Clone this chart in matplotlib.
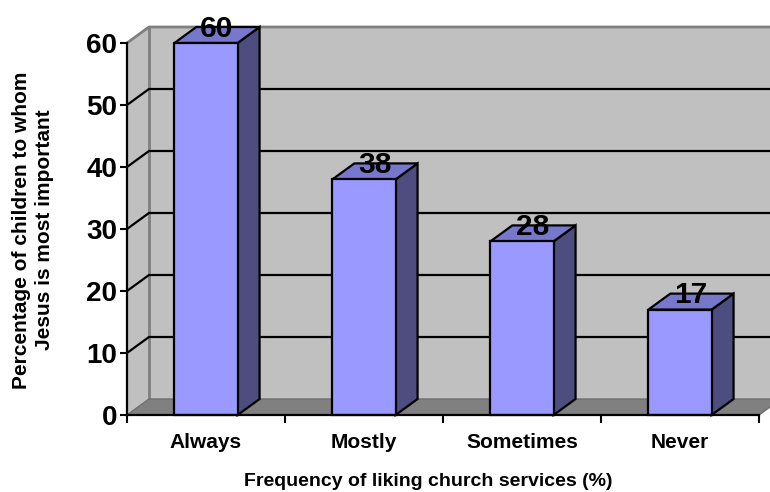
import matplotlib
matplotlib.use("Agg")
import matplotlib.pyplot as plt

plt.rcParams['font.family'] = ['Liberation Sans', 'DejaVu Sans']
plt.rcParams['font.weight'] = 'bold'

categories = ['Always', 'Mostly', 'Sometimes', 'Never']
values = [60, 38, 28, 17]
y_ticks = [0, 10, 20, 30, 40, 50, 60]

# fake 3D offsets (data units)
DX = 0.139
DY = 2.58
W = 0.4

front_c = '#9999FF'
side_c = '#4D4D80'
top_c = '#7777CC'

fig = plt.figure(figsize=(7.7, 4.92), dpi=100)
ax = fig.add_axes([127 / 770, 77 / 492, 632 / 770, 372 / 492])
ax.set_xlim(-0.5, 3.5)
ax.set_ylim(0, 60)
ax.patch.set_visible(False)

x0, x1 = -0.5, len(categories) - 0.5
ymax = y_ticks[-1]

# walls
ax.fill([x0 + DX, x1 + DX, x1 + DX, x0 + DX], [DY, DY, ymax + DY, ymax + DY],
        color='#C0C0C0', clip_on=False, zorder=0)
ax.fill([x0, x0 + DX, x0 + DX, x0], [0, DY, ymax + DY, ymax],
        color='#C0C0C0', clip_on=False, zorder=0)
ax.plot([x0, x0 + DX, x1 + DX], [ymax, ymax + DY, ymax + DY],
        color='#808080', lw=2, clip_on=False, zorder=1)
ax.plot([x0 + DX, x0 + DX], [DY, ymax + DY], color='#808080', lw=2,
        clip_on=False, zorder=1)

# gridlines on back and side wall
for v in y_ticks[1:-1]:
    ax.plot([x0, x0 + DX, x1 + DX], [v, v + DY, v + DY], color='black',
            lw=1.6, clip_on=False, zorder=1)

# floor
ax.fill([x0, x1, x1 + DX, x0 + DX], [0, 0, DY, DY], facecolor='#808080',
        edgecolor='#6E6E6E', lw=1, clip_on=False, zorder=2)

# bars
for i, v in enumerate(values):
    l, r = i - W / 2, i + W / 2
    ax.fill([r, r + DX, r + DX, r], [0, DY, v + DY, v], facecolor=side_c,
            edgecolor='black', lw=1.6, clip_on=False, zorder=3)
    ax.fill([l, r, r + DX, l + DX], [v, v, v + DY, v + DY], facecolor=top_c,
            edgecolor='black', lw=1.6, clip_on=False, zorder=3)
    ax.fill([l, r, r, l], [0, 0, v, v], facecolor=front_c,
            edgecolor='black', lw=1.6, clip_on=False, zorder=4)
    ax.text(i + 0.067, v + 1.0, str(v), ha='center', va='baseline',
            fontsize=21.5, fontweight='bold', zorder=5, clip_on=False)

for s in ['top', 'right']:
    ax.spines[s].set_visible(False)
for s in ['left', 'bottom']:
    ax.spines[s].set_linewidth(1.6)
    ax.spines[s].set_zorder(6)

ax.set_yticks(y_ticks)
ax.tick_params(axis='y', length=5, width=1.5, labelsize=20, pad=2)
ax.set_xticks([x0 + k for k in range(len(categories) + 1)])
ax.set_xticklabels([])
ax.tick_params(axis='x', which='major', length=6, width=1.5)
ax.set_xticks(range(len(categories)), minor=True)
ax.set_xticklabels(categories, minor=True, fontsize=15, fontweight='bold')
ax.tick_params(axis='x', which='minor', length=0, pad=13)

fig.text(428 / 770, 1 - 481 / 492, 'Frequency of liking church services (%)',
         ha='center', va='center', fontsize=14, fontweight='bold')
fig.text(33 / 770, 1 - 230 / 492,
         'Percentage of children to whom\nJesus is most important',
         ha='center', va='center', rotation=90, fontsize=15,
         fontweight='bold', multialignment='center', linespacing=1.3)

fig.savefig('out.png', dpi=100)
